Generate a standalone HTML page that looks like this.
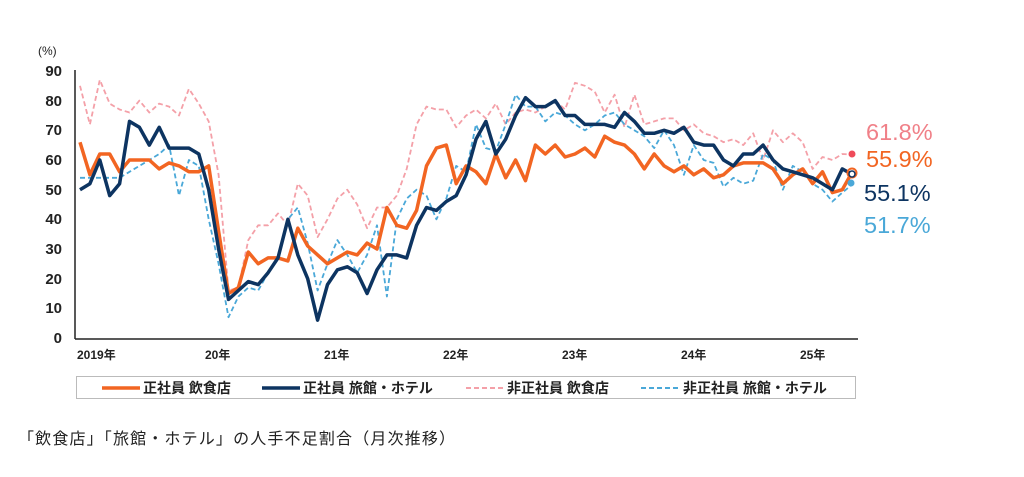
<!DOCTYPE html>
<html><head><meta charset="utf-8"><style>
body{margin:0;background:#fff;width:1024px;height:472px;overflow:hidden;font-family:"Liberation Sans","Noto Sans CJK JP",sans-serif;}
</style></head><body>
<svg id="c" width="1024" height="472" xmlns="http://www.w3.org/2000/svg" font-family="Liberation Sans, Noto Sans CJK JP, sans-serif">
<text x="38" y="55" font-size="12" fill="#222">(%)</text>
<g font-size="15" fill="#222" text-anchor="end" font-weight="bold">
<text x="62" y="76">90</text><text x="62" y="106">80</text><text x="62" y="135">70</text>
<text x="62" y="165">60</text><text x="62" y="195">50</text><text x="62" y="224">40</text>
<text x="62" y="254">30</text><text x="62" y="284">20</text><text x="62" y="313">10</text>
<text x="62" y="343">0</text>
</g>
<line x1="75" y1="70" x2="75" y2="339" stroke="#222" stroke-width="1.5"/>
<line x1="75" y1="339" x2="858" y2="339" stroke="#222" stroke-width="1.5"/>
<g font-size="12" fill="#222" font-weight="bold">
<text x="77" y="359">2019年</text><text x="205" y="359">20年</text><text x="324" y="359">21年</text>
<text x="443" y="359">22年</text><text x="562" y="359">23年</text><text x="681" y="359">24年</text><text x="800" y="359">25年</text>
</g>
<g id="series"></g>
<circle cx="852" cy="154" r="3.5" fill="#ef4b5a"/>
<circle cx="852" cy="173" r="4.5" fill="none" stroke="#f26522" stroke-width="2"/>
<circle cx="852" cy="174" r="3" fill="#fff" stroke="#0d3461" stroke-width="1.5"/>
<circle cx="851" cy="183" r="3.5" fill="#4aa8d8"/>
<g font-size="23.5">
<text x="866" y="140" fill="#f08088">61.8%</text>
<text x="866" y="167" fill="#f26522">55.9%</text>
<text x="864" y="201" fill="#0d3461">55.1%</text>
<text x="864" y="233" fill="#4aa8d8">51.7%</text>
</g>
<rect x="76.5" y="376.5" width="779" height="22" fill="none" stroke="#bbb"/>
<g font-size="14" fill="#222" font-weight="bold">
<line x1="102" y1="388" x2="140" y2="388" stroke="#f26522" stroke-width="3.5"/>
<text x="143" y="393">正社員 飲食店</text>
<line x1="262" y1="388" x2="300" y2="388" stroke="#0d3461" stroke-width="3.5"/>
<text x="303" y="393">正社員 旅館・ホテル</text>
<line x1="466" y1="388" x2="504" y2="388" stroke="#f4a0a8" stroke-width="2" stroke-dasharray="5,3"/>
<text x="507" y="393">非正社員 飲食店</text>
<line x1="641" y1="388" x2="680" y2="388" stroke="#4aa8d8" stroke-width="2" stroke-dasharray="5,3"/>
<text x="683" y="393">非正社員 旅館・ホテル</text>
</g>
<text x="18" y="444" font-size="16" fill="#222" textLength="437" lengthAdjust="spacing">「飲食店」「旅館・ホテル」の人手不足割合（月次推移）</text>
</svg>
<script>
var d={
pink:[85,72,87,79,77,76,80,76,79,78,75,84,79,73,55,16,17,33,38,38,42,38,52,48,34,40,47,50,45,37,44,44,48,57,72,78,77,77,71,75,77,74,79,72,76,77,76,78,80,77,86,85,83,76,82,71,82,72,73,74,74,70,72,69,68,66,67,65,69,60,70,66,69,66,57,61,60,62,61.8],
blue:[54,54,54,54,54,56,58,60,62,65,48,60,58,40,25,7,14,17,16,22,27,40,44,32,16,25,33,28,22,28,38,14,40,47,50,48,40,47,58,56,72,64,63,72,82,78,78,73,76,75,72,70,72,75,76,72,70,68,64,70,65,55,65,60,59,51,54,52,53,62,60,50,58,56,52,50,46,49,51.7],
orange:[66,55,62,62,56,60,60,60,57,59,58,56,56,58,36,15,17,29,25,27,27,26,37,31,28,25,27,29,28,32,30,44,38,37,43,58,64,65,52,58,56,52,62,54,60,53,65,62,65,61,62,64,61,68,66,65,62,57,62,58,56,58,55,57,54,55,58,59,59,59,57,52,55,57,52,56,49,50,55.9],
navy:[50,52,60,48,52,73,71,65,71,64,64,64,62,50,30,13,16,19,18,22,27,40,28,20,6,18,23,24,22,15,23,28,28,27,38,44,43,46,48,55,67,73,62,67,75,81,78,78,80,75,75,72,72,72,71,76,73,69,69,70,69,71,66,65,65,60,58,62,62,65,60,57,56,55,54,52,50,57,55.1]};
var st={pink:['#f4a0a8',1.8,'5,3'],blue:['#4aa8d8',1.8,'5,3'],orange:['#f26522',3.5,''],navy:['#0d3461',3.5,'']};
var g=document.getElementById('series'),h='';
for(var k in d){var p=d[k].map(function(v,i){return (80+i*9.9).toFixed(1)+','+(338-v*2.967).toFixed(1)}).join(' ');
h+='<polyline points="'+p+'" fill="none" stroke="'+st[k][0]+'" stroke-width="'+st[k][1]+'" stroke-linejoin="round"'+(st[k][2]?' stroke-dasharray="'+st[k][2]+'"':'')+'/>';}
g.innerHTML=h;
</script>
</body></html>
